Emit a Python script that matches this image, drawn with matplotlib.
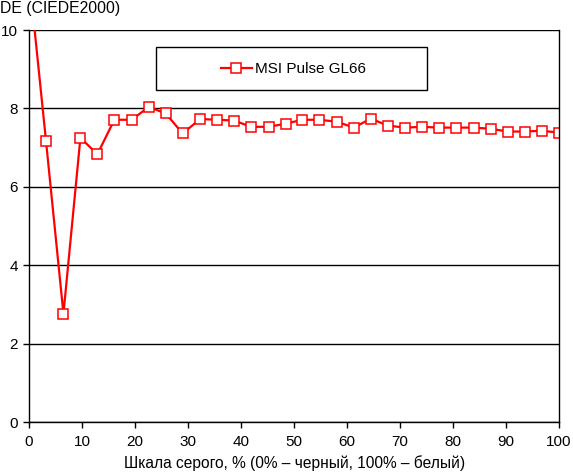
import matplotlib.pyplot as plt
from matplotlib.patches import Rectangle

plt.rcParams['font.family'] = ['Liberation Sans', 'DejaVu Sans']

# grey level, % (32 steps from black to white)
grey = [0.0, 3.2, 6.5, 9.7, 12.9, 16.1, 19.4, 22.6, 25.8, 29.0, 32.3,
        35.5, 38.7, 41.9, 45.2, 48.4, 51.6, 54.8, 58.1, 61.3, 64.5, 67.7,
        71.0, 74.2, 77.4, 80.6, 83.9, 87.1, 90.3, 93.5, 96.8, 100.0]
de = [11.4, 7.18, 2.76, 7.25, 6.83, 7.71, 7.71, 8.04, 7.87, 7.36, 7.73,
      7.71, 7.69, 7.53, 7.53, 7.61, 7.71, 7.71, 7.66, 7.51, 7.74, 7.56,
      7.51, 7.53, 7.51, 7.51, 7.51, 7.48, 7.41, 7.41, 7.43, 7.38]
label = 'MSI Pulse GL66'

fig = plt.figure(figsize=(5.73, 4.72), dpi=100)
ax = fig.add_axes([29/573, 1-422/472, 530/573, 392/472])

ax.plot(grey, de, color='#ff0000', lw=1.6, marker='s', ms=7.2,
        mfc='white', mec='#ff0000', mew=1.1, label=label)

ax.set_xlim(0, 100)
ax.set_ylim(0, 10)
ax.set_xticks(range(0, 101, 10))
ax.set_yticks(range(0, 11, 2))
ax.grid(axis='y', color='black', lw=1)
ax.set_axisbelow(True)
for s in ax.spines.values():
    s.set_color('black')
    s.set_linewidth(1)
ax.spines['top'].set_visible(False)
ax.tick_params(direction='out', length=4, width=1, color='black',
               labelsize=11, pad=5)
ax.tick_params(axis='y', pad=4)

fig.text(0.0, 1-8/472, 'DE (CIEDE2000)', fontsize=11.3, ha='left', va='center')
fig.text(295/573, 1-463/472, 'Шкала серого, % (0% – черный, 100% – белый)',
         fontsize=11.2, ha='center', va='center')

ax.add_patch(Rectangle((127/530, (422-90)/392), 271/530, 43/392,
                       transform=ax.transAxes, fill=False, ec='black',
                       lw=1, clip_on=False, zorder=5))
leg = ax.legend(loc='center', bbox_to_anchor=(0.499, 0.9005), frameon=False,
                fontsize=11, handlelength=2.0, handletextpad=0.2)

fig.savefig('out.png', dpi=100, facecolor='white')
